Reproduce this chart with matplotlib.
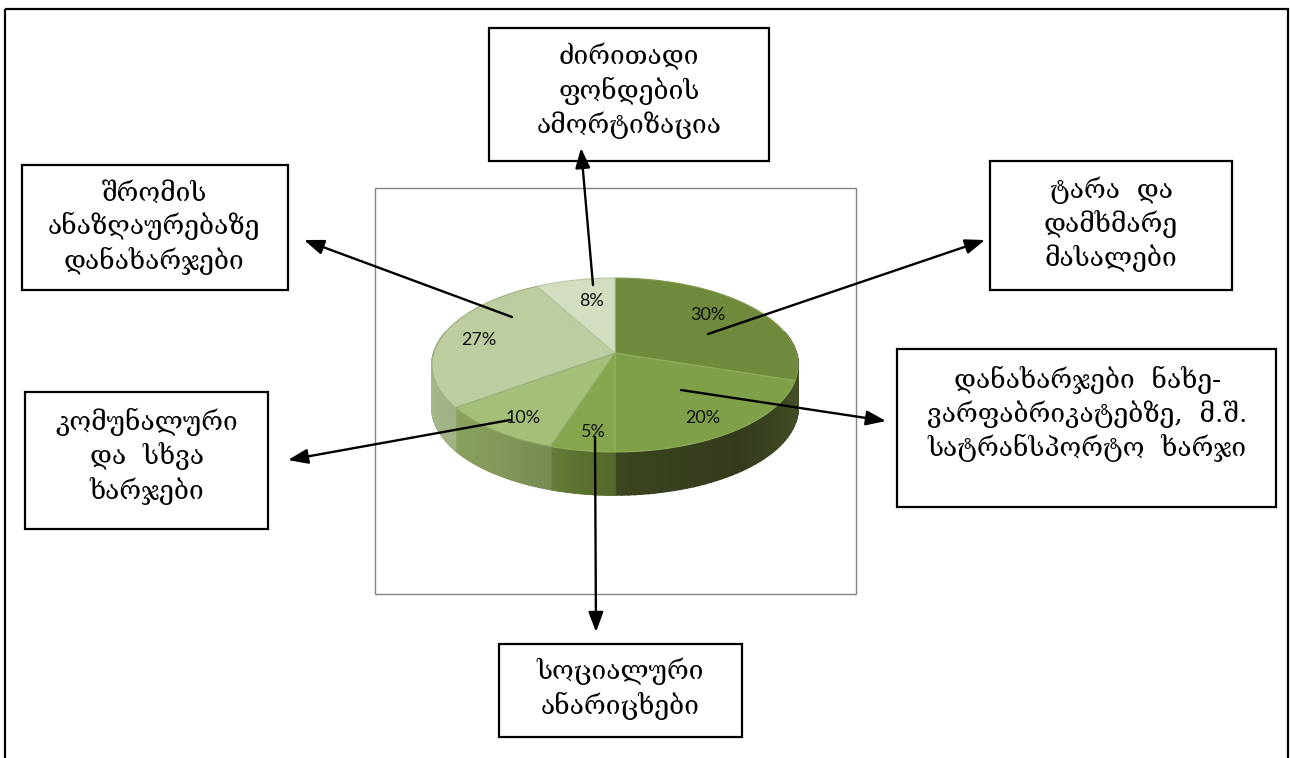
#!/usr/bin/env python

import numpy as np
import matplotlib
matplotlib.use('Agg')
import matplotlib.pyplot as plt
from matplotlib.colors import to_rgb
from matplotlib.patches import Rectangle

# shares clockwise from 12 o'clock
shares = [30, 20, 5, 10, 27, 8]

box_texts = [
    'ძირითადი\nფონდების\nამორტიზაცია',
    'შრომის\nანაზღაურებაზე\nდანახარჯები',
    'ტარა  და\nდამხმარე\nმასალები',
    'დანახარჯები  ნახე-\nვარფაბრიკატებზე,  მ.შ.\nსატრანსპორტო  ხარჯი',
    'კომუნალური\nდა  სხვა\nხარჯები',
    'სოციალური\nანარიცხები',
]

# layout, in image pixels
box_rects = [(489, 28, 769, 161), (22, 165, 288, 290), (990, 161, 1232, 290),
             (897, 349, 1276, 507), (25, 392, 268, 529), (499, 644, 742, 737)]
box_text_xy = [(629, 91), (154, 228), (1111, 224), (1087, 414), (147, 456), (620, 689)]
arrows = [((593, 285), (581, 148)), ((512, 317), (304, 240)), ((708, 334), (985, 240)),
          ((681, 390), (886, 421)), ((510, 420), (288, 460)), ((595, 437), (596, 632))]
pct_xy = [(708, 315), (703, 418), (593, 432), (523, 418), (479, 340), (591, 301)]

top_colors = ['#6f8a3c', '#7f9f49', '#86a64d', '#a4bf78', '#bdcda0', '#d3dec0']
edge_colors = ['#7f9a4c', '#8fae58', '#93b05c', '#8fa968', '#9db080', '#b8c6a0']
side_colors = [('#3f4a22', '#404c24', '#404c24'), ('#434f26', '#333b1c', '#3b4620'),
               ('#56692c', '#5c7030', '#667d36'), ('#778a53', '#84995a', '#8aa15e'),
               ('#a2b285', '#a6b58a', '#a6b58a'), ('#a6b58a', '#a6b58a', '#a6b58a')]

cx, cy = 615, 353
R, k, p = 181.3, 85.3, -0.138   # perspective squeeze of the disc
depth = 43


def disc(theta):
    u = np.sin(theta)
    v = -np.cos(theta)
    w = 1 + p * v
    return cx + R * u / w, cy + k * v / w


fig = plt.figure(figsize=(12.9, 7.58), dpi=100)
ax = fig.add_axes([0, 0, 1, 1])
ax.set_xlim(0, 1290)
ax.set_ylim(758, 0)
ax.axis('off')

# page frame, runs off the bottom
ax.add_patch(Rectangle((5, 9), 1283, 780, fill=False, ec='black', lw=1.6, zorder=1))
# chart area
ax.add_patch(Rectangle((375, 188), 481, 406, fill=False, ec='#868686', lw=1.0, zorder=1))

ends = np.cumsum(shares) / np.sum(shares) * 2 * np.pi
starts = np.r_[0, ends[:-1]]

# side wall first
for i in range(len(shares)):
    a = max(starts[i], np.radians(75))
    b = min(ends[i], np.radians(285))
    if b <= a:
        continue
    tt = np.linspace(a, b, 40)
    stops = np.array([to_rgb(c) for c in side_colors[i]])
    for j in range(len(tt) - 1):
        x0, y0 = disc(tt[j])
        x1, y1 = disc(tt[j + 1])
        f = j / (len(tt) - 2)
        col = [np.interp(f, [0, 0.5, 1], stops[:, c]) for c in range(3)]
        ax.fill([x0, x1, x1, x0], [y0, y1, y1 + depth, y0 + depth], color=col, lw=1.2, zorder=2)

# top face
for i in range(len(shares)):
    tt = np.linspace(starts[i], ends[i], 80)
    x, y = disc(tt)
    ax.fill(np.r_[cx, x], np.r_[cy, y], fc=top_colors[i], ec=edge_colors[i], lw=0.8, zorder=3)

for s, (x, y) in zip(shares, pct_xy):
    ax.text(x, y, '%d%%' % s, family='Lato', fontsize=13, color='#111111',
            ha='center', va='center', zorder=4)

for (x0, y0, x1, y1), txt, (tx, ty) in zip(box_rects, box_texts, box_text_xy):
    ax.add_patch(Rectangle((x0, y0), x1 - x0, y1 - y0, fc='white', ec='black', lw=1.6, zorder=6))
    ax.text(tx, ty, txt, family='DejaVu Serif', fontsize=19, linespacing=1.29,
            ha='center', va='center', zorder=7)

# arrows go over the boxes
for (x0, y0), (x1, y1) in arrows:
    ax.annotate('', xy=(x1, y1), xytext=(x0, y0), zorder=8,
                arrowprops=dict(arrowstyle='-|>,head_length=0.8,head_width=0.3',
                                mutation_scale=15, color='black', lw=1.7, shrinkA=0, shrinkB=0))

plt.savefig('out.png', dpi=100)
